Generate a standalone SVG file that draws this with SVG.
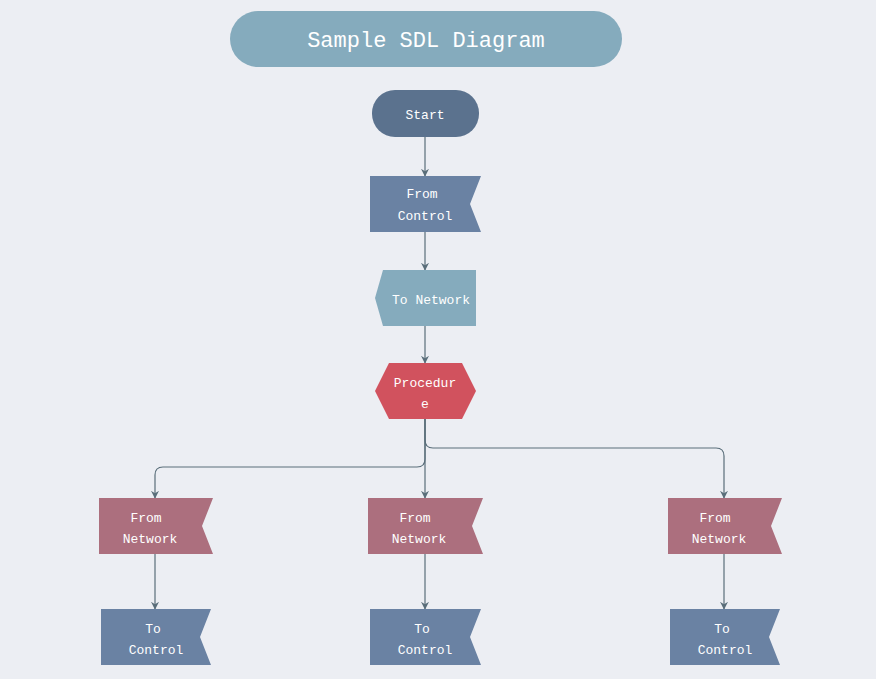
<svg xmlns="http://www.w3.org/2000/svg" width="876" height="679" viewBox="0 0 876 679">
<defs>
<marker id="a" viewBox="0 0 10 10" refX="9" refY="5" markerWidth="8" markerHeight="8" orient="auto" markerUnits="userSpaceOnUse"><path d="M0,0 L10,5 L0,10 L3,5 z" fill="#5a6e7a"/></marker>
<style>
text{font-family:"Liberation Mono","DejaVu Sans Mono",monospace;fill:#fff;font-size:13px;text-anchor:middle}
.c{fill:none;stroke:#5a6e7a;stroke-width:1.2;marker-end:url(#a)}
.fc{fill:#6a82a3}.fn{fill:#ac6f7e}
</style>
</defs>
<rect width="876" height="679" fill="#eceef3"/>
<g id="title"><rect x="230" y="11" width="392" height="56" rx="28" fill="#85abbd"/><text x="426" y="47" style="font-size:22px">Sample SDL Diagram</text></g>
<g id="connectors">
<path class="c" d="M425,137 V176"/>
<path class="c" d="M425,232 V270"/>
<path class="c" d="M425,326 V363"/>
<path class="c" d="M425,419 V498"/>
<path class="c" d="M425,419 V459 Q425,467 417,467 H163 Q155,467 155,475 V498"/>
<path class="c" d="M425,419 V440 Q425,448 433,448 H716 Q724,448 724,456 V498"/>
<path class="c" d="M155,554 V609"/>
<path class="c" d="M425,554 V609"/>
<path class="c" d="M724,554 V609"/>
</g>
<g id="start"><rect x="372" y="90" width="107" height="47" rx="23" fill="#5b728e"/><text x="425" y="119">Start</text></g>
<g id="fromControl"><path class="fc" d="M370,176 H481 L470,204 L481,232 H370 Z"/><text x="422" y="198">From</text><text x="425" y="220">Control</text></g>
<g id="toNetwork"><path d="M383,270 H476 V326 H383 L375,298 Z" fill="#85abbd"/><text x="431" y="304">To Network</text></g>
<g id="procedure"><path d="M375,391 L389,363 H462 L476,391 L462,419 H389 Z" fill="#d1525e"/><text x="425" y="387">Procedur</text><text x="425" y="408">e</text></g>
<g id="fromNetwork1"><path class="fn" d="M99,498 H213 L202,526 L213,554 H99 Z"/><text x="146" y="522">From</text><text x="150" y="543">Network</text></g>
<g id="fromNetwork2"><path class="fn" d="M368,498 H483 L472,526 L483,554 H368 Z"/><text x="415" y="522">From</text><text x="419" y="543">Network</text></g>
<g id="fromNetwork3"><path class="fn" d="M668,498 H782 L771,526 L782,554 H668 Z"/><text x="715" y="522">From</text><text x="719" y="543">Network</text></g>
<g id="toControl1"><path class="fc" d="M101,609 H211 L200,637 L211,665 H101 Z"/><text x="153" y="633">To</text><text x="156" y="654">Control</text></g>
<g id="toControl2"><path class="fc" d="M370,609 H481 L470,637 L481,665 H370 Z"/><text x="422" y="633">To</text><text x="425" y="654">Control</text></g>
<g id="toControl3"><path class="fc" d="M670,609 H780 L769,637 L780,665 H670 Z"/><text x="722" y="633">To</text><text x="725" y="654">Control</text></g>
</svg>
